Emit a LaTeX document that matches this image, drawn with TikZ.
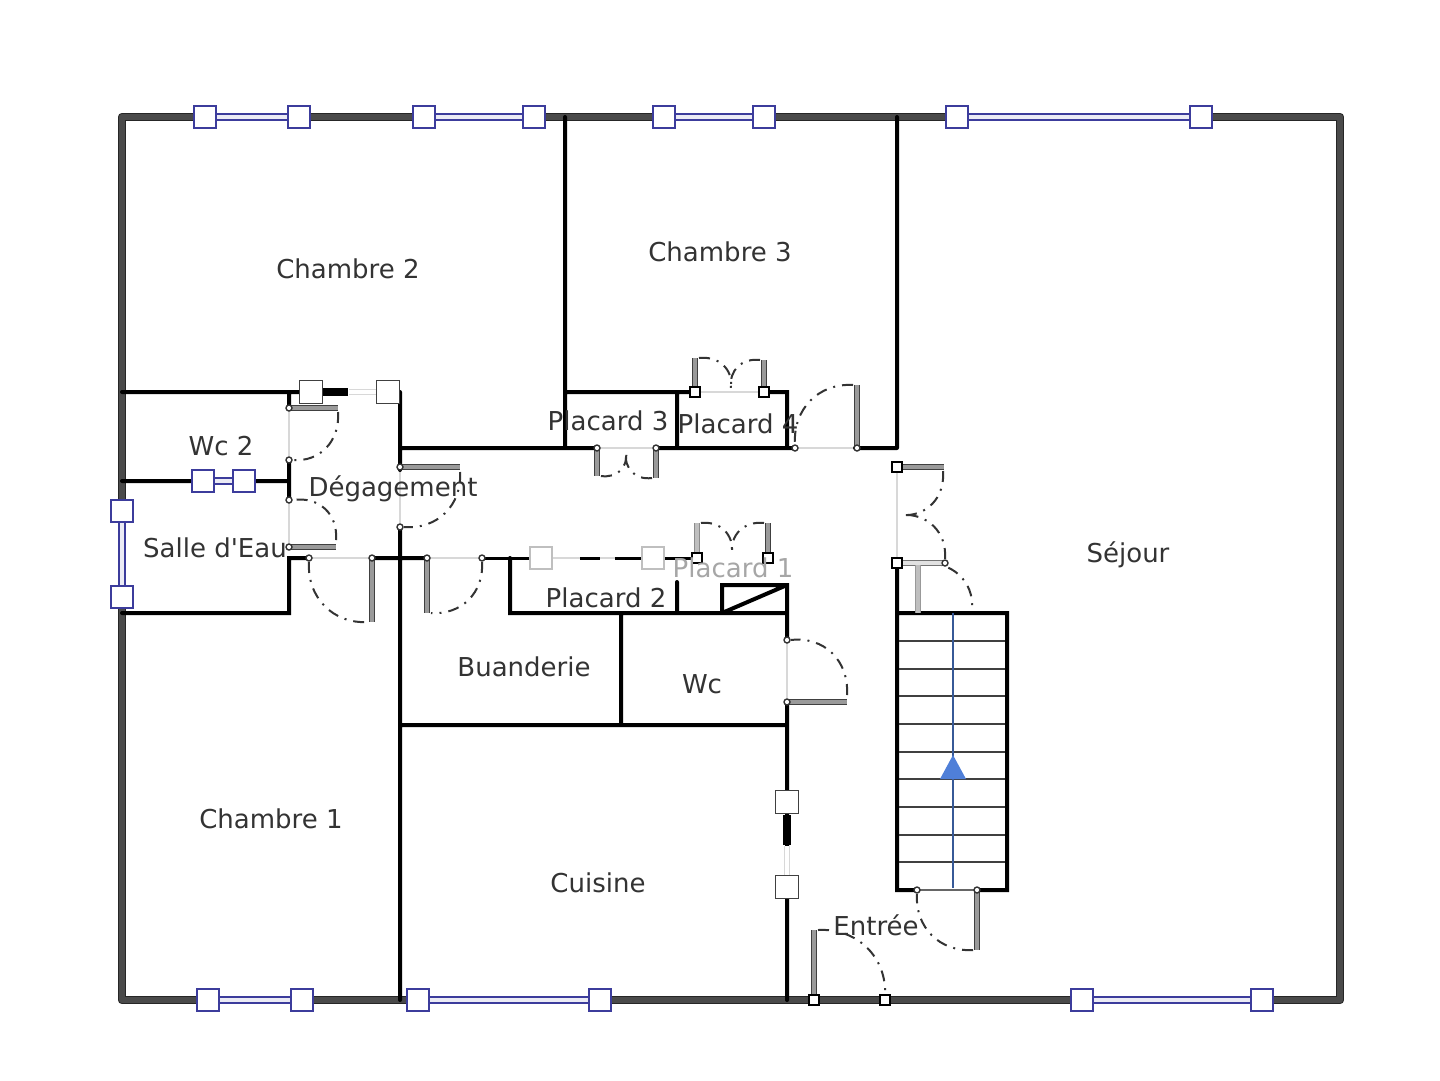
\documentclass[tikz,border=0pt]{standalone}
\usepackage{fontspec}
\setmainfont{DejaVu Sans}
\newfontfamily\plainapos{DejaVu Sans}
\usetikzlibrary{calc}
\definecolor{winblue}{HTML}{3C3C9C}
\definecolor{outerwall}{HTML}{4A4A4A}
\definecolor{leafgray}{HTML}{9A9A9A}
\definecolor{faint}{HTML}{D8D8D8}
\definecolor{labelc}{HTML}{333333}
\definecolor{stairblue}{HTML}{4F7FD8}
\tikzset{
  x=1pt,y=-1pt,
  outerw/.style={draw=black!85,line width=1.3pt,double=outerwall,double distance=6pt,line join=round},
  wallw/.style={draw=black,line width=4pt,line cap=round},
  openingw/.style={draw=faint,line width=1.5pt},
  winglass/.style={draw=winblue,line width=2pt,double=white!90!winblue,double distance=3.6pt},
  winsq/.style={draw=winblue,line width=1.6pt,fill=white,minimum size=22pt,inner sep=0pt},
  blacksq/.style={draw=black!75,line width=1.6pt,fill=white,minimum size=23pt,inner sep=0pt},
  hingesq/.style={draw=black,line width=1.5pt,fill=white,minimum size=10pt,inner sep=0pt},
  hingec/.style={draw=black!80,line width=1.4pt,fill=white,circle,minimum size=6pt,inner sep=0pt},
  leafw/.style={draw=black!75,line width=1.2pt,double=leafgray,double distance=3.8pt},
  swingline/.style={draw=black!80,line width=2pt,dash pattern=on 11pt off 7pt on 2pt off 7pt},
  roomlabel/.style={text=labelc,font=\fontsize{26}{30}\selectfont,inner sep=0pt},
}
\newcommand\swing[3]{\draw[swingline] (#2) .. controls ($(#2)+0.552*(#3)-0.552*(#1)$) and ($(#3)+0.552*(#2)-0.552*(#1)$) .. (#3);}
\newcommand\winrow[5]{\draw[winglass] (#2,#3) -- (#4,#5);
  \node[winsq] (#1a) at (#2,#3) {}; \node[winsq] (#1b) at (#4,#5) {};}
\begin{document}
\begin{tikzpicture}
\useasboundingbox (0,0) rectangle (1440,1080);
\fill[white] (0,0) rectangle (1440,1080);
% faint openings
\draw[openingw] (289,408)--(289,547) (400,467)--(400,527) (309,558)--(700,558)
  (795,448)--(857,448) (897,467)--(897,563) (787,640)--(787,702) (814,1000)--(885,1000)
  (597,448)--(656,448) (695,392)--(764,392);
% outer walls
\draw[outerw] (122,117) rectangle (1340,1000);
% inner walls
\draw[wallw] (565,117)--(565,448) (897,117)--(897,448) (122,392)--(300,392) (289,392)--(289,408)
 (122,481)--(289,481) (289,460)--(289,500) (122,613)--(289,613)--(289,558)--(309,558)
 (400,392)--(400,470) (400,448)--(597,448) (655,448)--(795,448) (855,448)--(897,448)
 (565,392)--(695,392) (764,392)--(787,392)--(787,448) (677,392)--(677,448)
 (400,528)--(400,1000) (372,558)--(427,558) (400,725)--(787,725) (621,613)--(621,725)
 (510,558)--(510,613)--(787,613) (677,582)--(677,613)
 (722,613)--(722,585)--(787,585)--(787,640) (722,613)--(787,585)
 (787,702)--(787,1000) (897,563)--(897,890)--(917,890) (977,890)--(1007,890)--(1007,613)--(897,613);
\draw[draw=black,line width=3pt] (482,558)--(530,558) (580,558)--(600,558) (615,558)--(642,558) (665,558)--(697,558);
% stairs
\foreach \sy in {641,669,696,724,752,779,807,835,862}
  \draw[draw=black!75,line width=2pt] (899,\sy)--(1005,\sy);
\draw[draw=black!60,line width=1.8pt] (917,890)--(977,890);
\draw[draw=stairblue!70!black,line width=1.2pt] (953,613)--(953,888);
\fill[stairblue] (953,755)--(966,779)--(940,779)--cycle;
% windows
\winrow{wa}{205}{117}{299}{117}
\winrow{wb}{424}{117}{534}{117}
\winrow{wc}{664}{117}{764}{117}
\winrow{wd}{957}{117}{1201}{117}
\winrow{we}{208}{1000}{302}{1000}
\winrow{wf}{418}{1000}{600}{1000}
\winrow{wg}{1082}{1000}{1262}{1000}
\winrow{wh}{122}{511}{122}{597}
\winrow{wi}{203}{481}{244}{481}
% black-framed sliding openings
\draw[draw=black,line width=8pt] (323,392)--(348,392) (787,815)--(787,845);
\draw[draw=faint,line width=1.2pt,double=white,double distance=4pt] (349,392)--(377,392) (787,846)--(787,875);
\node[blacksq] (sa) at (311,392) {};
\node[blacksq] (sb) at (388,392) {};
\node[blacksq] (sc) at (787,802) {};
\node[blacksq] (sd) at (787,887) {};
\node[draw=black!25,line width=1.5pt,fill=white,minimum size=22pt,inner sep=0pt] (se) at (541,558) {};
\node[draw=black!25,line width=1.5pt,fill=white,minimum size=22pt,inner sep=0pt] (sf) at (653,558) {};
% swing hidden by the leaf at the stair head
\swing{918,613}{922,563}{972,609}
% door leaves
\draw[leafw] (289,408)--(338,408);
\draw[leafw] (289,547)--(336,547);
\draw[leafw] (400,467)--(460,467);
\draw[leafw] (372,558)--(372,622);
\draw[leafw] (427,558)--(427,613);
\draw[leafw] (597,448)--(597,476);
\draw[leafw] (656,448)--(656,478);
\draw[leafw] (695,392)--(695,358);
\draw[leafw] (764,392)--(764,360);
\draw[leafw] (857,448)--(857,385);
\draw[leafw] (897,467)--(944,467);
\draw[leafw,draw=black!55,double=white!70!leafgray] (897,563)--(945,563);
\draw[leafw,draw=black!45,double=black!25] (697,558)--(697,523);
\draw[leafw] (768,558)--(768,523);
\draw[leafw,draw=black!40,double=black!25] (918,565)--(918,613);
\draw[leafw] (787,702)--(847,702);
\draw[leafw] (977,890)--(977,950);
\draw[leafw] (814,1000)--(814,930);
% door swings
\swing{289,408}{338,412}{293,460}
\swing{289,547}{336,540}{293,500}
\swing{400,467}{460,472}{404,527}
\swing{372,558}{309,562}{368,622}
\swing{427,558}{482,562}{431,613}
\swing{597,448}{601,476}{626,452}
\swing{656,448}{652,478}{626,452}
\swing{695,392}{699,358}{731,388}
\swing{764,392}{760,360}{731,388}
\swing{697,558}{701,523}{732,554}
\swing{768,558}{764,523}{732,554}
\swing{857,448}{853,385}{795,444}
\swing{897,467}{943,471}{901,515}
\swing{897,563}{945,559}{901,515}
\swing{787,702}{847,695}{791,640}
\swing{977,890}{973,950}{917,894}
\swing{814,1000}{818,930}{885,996}
% hinges
\foreach \hx/\hy/\hn in {289/408/a,289/460/b,289/500/c,289/547/d,309/558/e,372/558/f,427/558/g,482/558/h,400/467/i,400/527/j,597/448/k,656/448/l,795/448/m,857/448/n,787/640/o,787/702/p,917/890/q,977/890/r,945/563/s}
  \node[hingec] (h\hn) at (\hx,\hy) {};
\foreach \hx/\hy/\hn in {695/392/a,764/392/b,897/467/c,897/563/d,814/1000/e,885/1000/f,697/558/g,768/558/h}
  \node[hingesq] (q\hn) at (\hx,\hy) {};
% labels
\node[roomlabel] (l1) at (348,269) {Chambre 2};
\node[roomlabel] (l2) at (720,252) {Chambre 3};
\node[roomlabel] (l3) at (221,446) {Wc 2};
\node[roomlabel] (l4) at (393,489) {Dégagement};
\node[roomlabel] (l5) at (215,548) {Salle d{\plainapos\char39}Eau};
\node[roomlabel] (l6) at (608,421) {Placard 3};
\node[roomlabel] (l7) at (738,424) {Placard 4};
\node[roomlabel,text=black!35] (l8) at (733,568) {Placard 1};
\node[roomlabel] (l9) at (606,598) {Placard 2};
\node[roomlabel] (l10) at (524,667) {Buanderie};
\node[roomlabel] (l11) at (702,684) {Wc};
\node[roomlabel] (l12) at (271,819) {Chambre 1};
\node[roomlabel] (l13) at (598,883) {Cuisine};
\node[roomlabel] (l14) at (876,925) {Entrée};
\node[roomlabel] (l15) at (1128,555) {Séjour};
\end{tikzpicture}
\end{document}
